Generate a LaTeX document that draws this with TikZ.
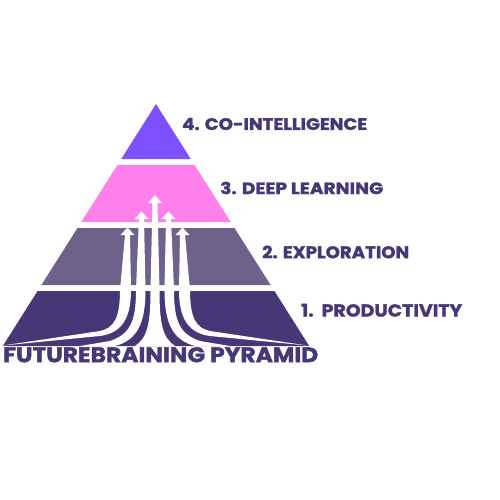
\documentclass[tikz,border=0pt]{standalone}
\usepackage{fontspec}
\newfontfamily\pop{Poppins}[BoldFeatures={FakeBold=1.6}]
\usepackage{graphicx}
\definecolor{tiertop}{HTML}{7F50FF}
\definecolor{tierpink}{HTML}{FF80EA}
\definecolor{tiermid}{HTML}{6E628A}
\definecolor{tierlow}{HTML}{483776}
\definecolor{txt}{HTML}{483776}
\tikzset{
  tier/.style={draw=none},
  lab/.style={anchor=west, inner sep=0pt, text=txt},
  stem/.style={fill=white, draw=none}
}
\newcommand{\lbl}[3]{\resizebox{#1pt}{#2pt}{\pop\bfseries #3}}
\begin{document}
\begin{tikzpicture}[x=1pt,y=-1pt]
\useasboundingbox (0,0) rectangle (500,500);
% tiers
\fill[tier, tiertop] (156,104) -- (190.8,159) -- (121.2,159) -- cycle;
\fill[tier, tierpink] (117.4,165) -- (194.6,165) -- (230.7,222) -- (81.3,222) -- cycle;
\fill[tier, tiermid] (77.5,228) -- (234.5,228) -- (270.6,285) -- (41.4,285) -- cycle;
\fill[tier, tierlow] (37.6,291) -- (274.4,291) -- (309.2,346) -- (2.8,346) -- cycle;
% center arrow
\fill[stem] (152.5,203) -- (148,203) -- (155,195) -- (162,203) -- (157.5,203)
  -- (159.5,290) .. controls (159.5,325) and (163,338) .. (175,346)
  -- (135,346) .. controls (147,338) and (150.5,325) .. (150.5,290) -- cycle;
% inner left arrow
\fill[stem] (139,219) -- (134.5,219) -- (141.5,211.5) -- (148.5,219) -- (144,219)
  -- (145.5,290) .. controls (145.5,322) and (138,340) .. (115,346)
  -- (80,346) -- (110,341) .. controls (130,334) and (136,322) .. (136,290) -- cycle;
% inner right arrow
\fill[stem] (171,219) -- (175.5,219) -- (168.5,211.5) -- (161.5,219) -- (166,219)
  -- (164.5,290) .. controls (164.5,322) and (172,340) .. (195,346)
  -- (230,346) -- (200,341) .. controls (180,334) and (174,322) .. (174,290) -- cycle;
% outer left arrow
\fill[stem] (125,235) -- (120.5,235) -- (127.5,227.5) -- (134.5,235) -- (130,235)
  -- (131,290) .. controls (131,318) and (122,333) .. (100,336)
  -- (3,345.5) -- (100,331) .. controls (114,328) and (120,318) .. (120,290) -- cycle;
% outer right arrow
\fill[stem] (185,235) -- (189.5,235) -- (182.5,227.5) -- (175.5,235) -- (180,235)
  -- (179,290) .. controls (179,318) and (188,333) .. (210,336)
  -- (307,345.5) -- (210,331) .. controls (196,328) and (190,318) .. (190,290) -- cycle;
% labels
\node[lab] (t4) at (182,124) {\lbl{185}{12}{4. CO-INTELLIGENCE}};
\node[lab] (t3) at (220,188) {\lbl{163}{12.3}{3. DEEP LEARNING}};
\node[lab] (t2) at (262,252) {\lbl{147}{12.6}{2. EXPLORATION}};
\node[lab] (t1) at (301,310.3) {\lbl{161}{12.7}{1.\ \ PRODUCTIVITY}};
\node[lab] (title) at (3,354.8) {\lbl{315}{15}{FUTUREBRAINING PYRAMID}};
\end{tikzpicture}
\end{document}
